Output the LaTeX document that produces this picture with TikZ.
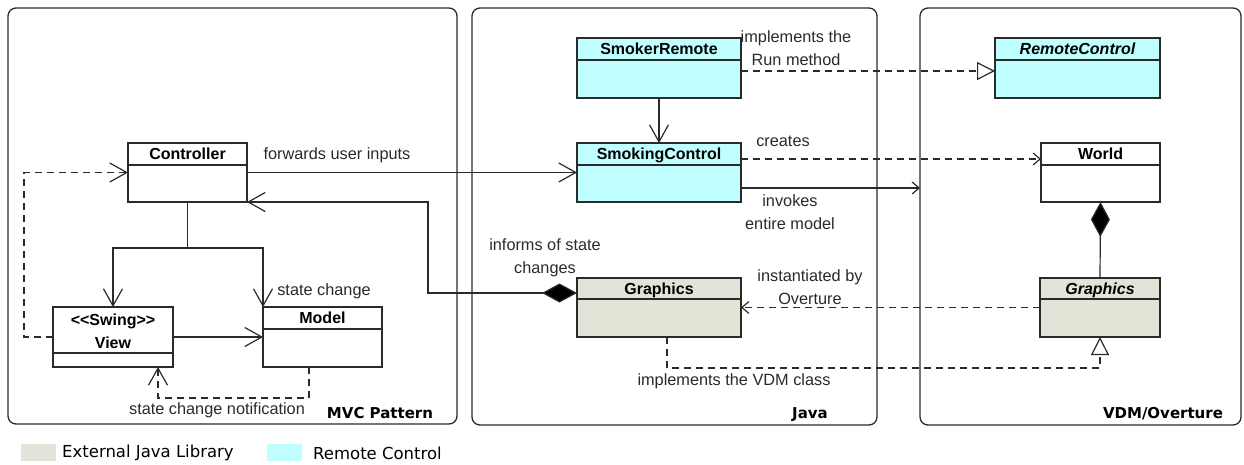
\documentclass[tikz,border=0pt]{standalone}
\usepackage{fontspec}
\setmainfont{Liberation Sans}
\newfontfamily\vfont{DejaVu Sans}
\usetikzlibrary{arrows.meta,calc}
\definecolor{rcfill}{HTML}{C0FFFF}
\definecolor{extfill}{HTML}{E3E4D8}
\definecolor{ln}{HTML}{2A2A2A}
\tikzset{
  cls/.style={draw=ln, line width=1.3pt, rectangle, inner sep=0pt, outer sep=0pt},
  divider/.style={draw=ln, line width=1.3pt},
  ttl/.style={font=\bfseries\fontsize{16}{23}\selectfont, align=center, inner sep=0pt, text=black},
  lbl/.style={font=\fontsize{16.3}{23}\selectfont, align=center, inner sep=0pt, text=ln},
  flbl/.style={font=\vfont\bfseries\fontsize{15}{18}\selectfont, inner sep=0pt, text=black},
  legtxt/.style={font=\vfont\fontsize{16.5}{20}\selectfont, inner sep=0pt, anchor=west, text=black},
  framebox/.style={draw=ln, line width=1.3pt, rounded corners=8pt, inner sep=0pt, outer sep=0pt},
  conn/.style={draw=ln, line width=1.2pt},
  dsh/.style={dash pattern=on 7pt off 5pt},
  openbig/.style={-{Straight Barb[length=17pt,width=19pt,line width=1.2pt]}},
  opensmall/.style={-{Straight Barb[length=7pt,width=12pt,line width=1.2pt]}},
  realize/.style={-{Triangle[length=18pt,width=18pt,fill=white,line width=1.2pt]}},
  compo/.style={{Diamond[length=35pt,width=19pt,fill=black]}-},
  compoopen/.style={{Diamond[length=35pt,width=19pt,fill=black]}-{Straight Barb[length=17pt,width=19pt,line width=1.2pt]}},
}
\newcommand{\umlbox}[8]{%
  \node[cls, fill=#7, minimum width=#4pt, minimum height=#5pt] (#1) at (#2,#3) {};
  \draw[divider] ([yshift=-#6pt]#1.north west) -- ([yshift=-#6pt]#1.north east);
  \node[ttl, anchor=base] (#1-t) at ($(#1.north)+(0,#6/2+5.7)$) {#8};
}
\begin{document}
\begin{tikzpicture}[x=1pt,y=-1pt]
\useasboundingbox (0,0) rectangle (1244,464);
% frames
\node[framebox, minimum width=449pt, minimum height=416pt] (fmvc) at (232.5,216) {};
\node[framebox, minimum width=405pt, minimum height=417pt] (fjava) at (674.5,216.5) {};
\node[framebox, minimum width=321pt, minimum height=417pt] (fvdm) at (1080.5,216.5) {};
\node[flbl] (lmvc) at (380,413) {MVC Pattern};
\node[flbl] (ljava) at (810,415) {Java};
\node[flbl] (lvdm) at (1163,414) {VDM/Overture};

% classes
\umlbox{ctrl}{187.5}{172.5}{119}{59}{22}{white}{Controller}
\node[cls, fill=white, minimum width=120pt, minimum height=60pt] (view) at (113,337) {};
\draw[divider] ([yshift=-46pt]view.north west) -- ([yshift=-46pt]view.north east);
\node[ttl, text depth=0pt] (view-t) at (113,331) {{<}{<}Swing{>}{>}\\View};
\umlbox{model}{322.5}{337}{119}{60}{22}{white}{Model}
\umlbox{sr}{659}{68}{164}{60}{22}{rcfill}{SmokerRemote}
\umlbox{smc}{659}{172.5}{164}{59}{22}{rcfill}{SmokingControl}
\umlbox{gj}{659}{307.5}{164}{59}{21}{extfill}{Graphics}
\umlbox{rc}{1077.5}{68}{165}{60}{22}{rcfill}{\itshape RemoteControl}
\umlbox{world}{1100.5}{172.5}{119}{59}{22}{white}{World}
\umlbox{gv}{1100}{307.5}{120}{59}{21}{extfill}{\itshape Graphics}

% MVC connectors
\coordinate (split) at (187.5,248);
\draw[conn] (ctrl.south) -- (split);
\draw[conn, openbig] (split) -| (view.north);
\draw[conn, openbig] (split) -| (model.north west);
\draw[conn, openbig] (view.east) -- (model.west);
\draw[conn, dsh, openbig] (view.west) -- ++(-29,0) |- (ctrl.west);
\draw[conn, dsh, openbig] ([xshift=-13.5pt]model.south) -- ++(0,31) -| ([xshift=45pt]view.south);
\node[lbl] (lsc) at (324,291) {state change};
\node[lbl] (lscn) at (217,410) {state change notification};

% controller <-> java
\draw[conn, openbig] (ctrl.east) -- (ctrl.east -| smc.west);
\node[lbl] (lfwd) at (337,155) {forwards user inputs};
\coordinate (gjA) at ([yshift=14.5pt]gj.west);
\coordinate (bend1) at (428,202);
\draw[conn, compoopen] (gjA) -| (bend1) -- (ctrl.south east);
\node[lbl] (linf) at (545,257.5) {informs of state\\changes};

% java internals
\draw[conn, openbig] (sr.south) -- (smc.north);
\draw[conn, dsh, realize] ([yshift=-3pt]sr.east) -- ([yshift=-3pt]sr.east -| rc.west);
\node[lbl] (limpl) at (796,48) {implements the\\Run method};
\draw[conn, dsh, opensmall] ([yshift=13.5pt]smc.east) -- ([yshift=13.5pt]smc.east -| world.west);
\node[lbl] (lcre) at (783,141) {creates};
\draw[conn, opensmall] ([yshift=-15.5pt]smc.east) -- ([yshift=-15.5pt]smc.east -| fvdm.west);
\node[lbl] (linv) at (790,212.5) {invokes\\entire model};

% VDM
\draw[conn, compo] (world.south) -- (gv.north);
\draw[conn, dsh, opensmall] (gv.west) -- (gj.east);
\node[lbl] (linst) at (810,287.5) {instantiated by\\Overture};
\draw[conn, dsh, realize] ([xshift=8pt]gj.south) -- ++(0,31) -| (gv.south);
\node[lbl] (lvdmc) at (734,381) {implements the VDM class};

% legend
\node[fill=extfill, minimum width=35pt, minimum height=17pt, inner sep=0pt] (lg1) at (38.5,452.5) {};
\node[legtxt] (lg1t) at (62,453) {External Java Library};
\node[fill=rcfill, minimum width=35pt, minimum height=17pt, inner sep=0pt] (lg2) at (284.5,452.5) {};
\node[legtxt] (lg2t) at (313,453) {Remote Control};
\end{tikzpicture}
\end{document}
